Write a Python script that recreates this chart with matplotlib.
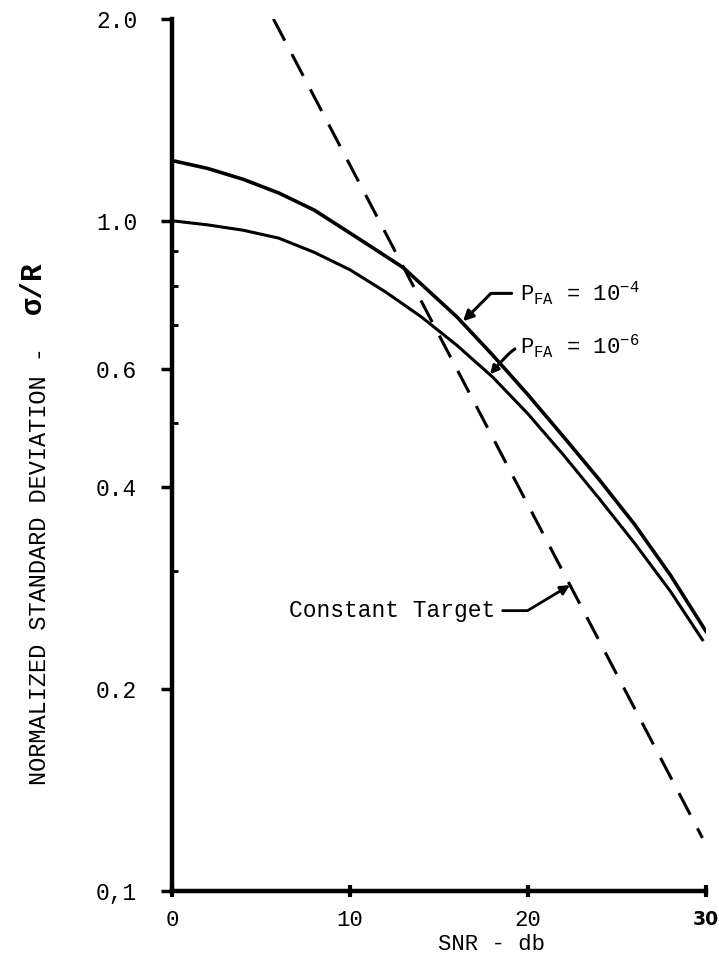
import numpy as np
import matplotlib
matplotlib.use("Agg")
import matplotlib.pyplot as plt

# values (SNR in db, sigma/R on a log axis)
snr_pfa4 = [0, 2, 4, 6, 8, 10.5, 13, 16, 18, 20, 22, 24, 26, 28, 30]
sigma_pfa4 = [1.23, 1.197, 1.153, 1.10, 1.037, 0.94, 0.851, 0.719, 0.631,
              0.550, 0.476, 0.411, 0.352, 0.296, 0.244]

snr_pfa6 = [0, 2, 4, 6, 8, 10, 12, 14, 16, 18, 20, 22, 24, 26, 28, 29.8]
sigma_pfa6 = [1.0, 0.986, 0.968, 0.942, 0.897, 0.845, 0.783, 0.719, 0.652,
              0.585, 0.515, 0.447, 0.385, 0.330, 0.280, 0.237]

snr_const = [5.7, 29.8]
sigma_const = [2.0, 0.12]

x_ticks = [0, 10, 20, 30]
x_labels = ["0", "10", "20", "30"]
y_major = [0.1, 0.2, 0.4, 0.6, 1.0, 2.0]
y_labels = ["0,1", "0.2", "0.4", "0.6", "1.0", "2.0"]
y_minor = [0.3, 0.5, 0.7, 0.8, 0.9]

plt.rcParams['font.family'] = ['Liberation Mono', 'DejaVu Sans']
plt.rcParams['mathtext.fontset'] = 'custom'
plt.rcParams['mathtext.rm'] = 'Liberation Mono'
plt.rcParams['mathtext.it'] = 'Liberation Mono'
plt.rcParams['mathtext.bf'] = 'Liberation Mono:bold'

W, H = 719, 968
fig = plt.figure(figsize=(W / 100, H / 100), dpi=100)
ax = fig.add_axes([172 / W, 77 / H, (706 - 172) / W, (891 - 19) / H])

ax.plot(snr_pfa4, sigma_pfa4, color='black', lw=2.6, solid_joinstyle='round')
ax.plot(snr_pfa6, sigma_pfa6, color='black', lw=2.2, solid_joinstyle='round')
ax.plot(snr_const, sigma_const, color='black', lw=2.2, linestyle=(0, (8, 5)))

ax.set_yscale('log')
ax.set_xlim(0, 30)
ax.set_ylim(0.1, 2.0)

ax.set_yticks(y_major, y_labels)
ax.set_yticks(y_minor, minor=True)
ax.yaxis.set_minor_formatter(matplotlib.ticker.NullFormatter())
ax.set_xticks(x_ticks, x_labels)

for side in ['top', 'right']:
    ax.spines[side].set_visible(False)
for side in ['left', 'bottom']:
    ax.spines[side].set_linewidth(3.2)

ax.tick_params(axis='y', which='major', direction='out', length=8, width=2.5,
               pad=17, labelsize=16.5)
ax.tick_params(axis='y', which='minor', direction='in', length=4, width=2)
ax.tick_params(axis='x', which='major', direction='inout', length=9, width=3,
               pad=9, labelsize=16)
# the last label is a bold sans "30" in the original, kept small so it fits
last = ax.get_xticklabels()[-1]
last.set_fontfamily('DejaVu Sans')
last.set_fontweight('bold')
last.set_fontsize(13.5)

# axis titles placed by hand like the original drawing
fig.text(492 / W, 1 - 945 / H, "SNR - db", ha='center', va='center', fontsize=16)
fig.text(40 / W, 1 - 566 / H, "NORMALIZED STANDARD DEVIATION -", rotation=90,
         ha='center', va='center', fontsize=17)
fig.text(33 / W, 1 - 288 / H, "σ/R", rotation=90, ha='center', va='center',
         fontsize=21, fontweight='bold')

# curve labels with arrows
ax.annotate(r"P$_{\rm FA}$ = 10$^{-4}$", xy=(16.35, 0.708), xytext=(19.55, 0.759),
            ha='left', va='baseline', fontsize=16,
            arrowprops=dict(arrowstyle='-|>', color='black', lw=2.2,
                            connectionstyle='angle,angleA=0,angleB=45,rad=0',
                            relpos=(0, 0.5), shrinkA=4, shrinkB=0, mutation_scale=15))
ax.annotate(r"P$_{\rm FA}$ = 10$^{-6}$", xy=(17.87, 0.590), xytext=(19.55, 0.632),
            ha='left', va='baseline', fontsize=16,
            arrowprops=dict(arrowstyle='-|>', color='black', lw=2.2,
                            connectionstyle='angle3,angleA=0,angleB=50',
                            relpos=(0, 0.5), shrinkA=2, shrinkB=0, mutation_scale=12))
ax.annotate("Constant Target", xy=(22.36, 0.286), xytext=(6.6, 0.262),
            ha='left', va='center', fontsize=16.5,
            arrowprops=dict(arrowstyle='-|>', color='black', lw=2.0,
                            connectionstyle='angle,angleA=0,angleB=31,rad=0',
                            relpos=(1, 0.5), shrinkA=3, shrinkB=0, mutation_scale=14))

fig.savefig("out.png", dpi=100)
